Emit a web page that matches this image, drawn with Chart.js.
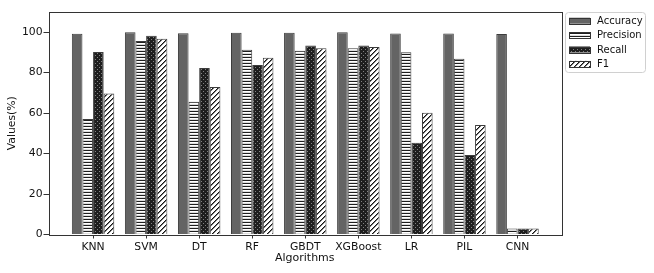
<!DOCTYPE html>
<html>
<head>
<meta charset="utf-8">
<script src="https://cdn.jsdelivr.net/npm/chart.js@4"></script>
<style>
  body { margin: 0; background: #fff; }
  canvas { display: block; }
</style>
</head>
<body>
<canvas id="myChart" width="654" height="273"></canvas>
<script>
const algorithms = ['KNN', 'SVM', 'DT', 'RF', 'GBDT', 'XGBoost', 'LR', 'PIL', 'CNN'];
const accuracy  = [99.3, 100, 99.5, 99.8, 99.8, 100, 99.4, 99.4, 99.1];
const precision = [57.1, 95.7, 65.6, 91.3, 90.8, 92.1, 90.1, 86.9, 3.0];
const recall    = [90.2, 98.3, 82.3, 83.8, 93.4, 93.4, 45.3, 39.3, 3.0];
const f1        = [69.7, 96.8, 72.9, 87.4, 92.1, 92.7, 60.2, 54.1, 3.0];
const yTicks = [0, 20, 40, 60, 80, 100];

// little tiles standing in for matplotlib hatches
function makeTile(w, h, pick) {
    const c = document.createElement('canvas');
    c.width = w; c.height = h;
    const cx = c.getContext('2d');
    const img = cx.createImageData(w, h);
    for (let y = 0; y < h; y++) {
        for (let x = 0; x < w; x++) {
            const g = pick(x, y);
            const i = (y * w + x) * 4;
            img.data[i] = img.data[i + 1] = img.data[i + 2] = g;
            img.data[i + 3] = 255;
        }
    }
    cx.putImageData(img, 0, 0);
    return cx.createPattern(c, 'repeat');
}

const ctx = document.getElementById('myChart').getContext('2d');
Chart.defaults.font.family = 'DejaVu Sans';
Chart.defaults.font.size = 10.8;
Chart.defaults.color = '#111';

const solidGray = 'rgb(100,100,100)';
const hLines = makeTile(1, 3, (x, y) => [30, 255, 220][y]);
const dots = makeTile(4, 4, (x, y) => ((x === 1 && y === 1) || (x === 3 && y === 3)) ? 130 : 30);
const diag = makeTile(5, 5, (x, y) => {
    const d = (x + y) % 5;
    return d === 0 ? 20 : (d === 1 ? 120 : 255);
});

const series = [
    { label: 'Accuracy', values: accuracy, fill: solidGray },
    { label: 'Precision', values: precision, fill: hLines },
    { label: 'Recall', values: recall, fill: dots },
    { label: 'F1', values: f1, fill: diag }
];

const frameAndLegend = {
    id: 'frameAndLegend',
    afterDatasetsDraw(chart) {
        const a = chart.chartArea;
        const c = chart.ctx;
        c.save();
        c.strokeStyle = '#333';
        c.lineWidth = 1;
        c.strokeRect(Math.round(a.left) + 0.5, Math.round(a.top) + 0.5,
            Math.round(a.right - a.left), Math.round(a.bottom - a.top));

        // legend box
        const lx = 565.5, ly = 12.5, lw = 80, lh = 60;
        c.fillStyle = 'rgba(255,255,255,0.9)';
        c.strokeStyle = '#d0d0d0';
        c.beginPath();
        c.roundRect(lx, ly, lw, lh, 3);
        c.fill();
        c.stroke();
        c.font = '10px "DejaVu Sans"';
        c.textBaseline = 'middle';
        series.forEach((s, i) => {
            const cy = 20.7 + i * 14.4;
            c.fillStyle = s.fill;
            c.fillRect(569, cy - 3, 21, 6);
            c.strokeStyle = '#333';
            c.strokeRect(569.5, Math.round(cy - 3) + 0.5, 21, 6);
            c.fillStyle = '#111';
            c.fillText(s.label, 597, cy + 0.5);
        });
        c.restore();
    }
};

const myChart = new Chart(ctx, {
    type: 'bar',
    data: {
        datasets: series.map(s => ({
            label: s.label,
            data: s.values.map((v, i) => ({ x: i, y: v })),
            backgroundColor: s.fill,
            borderColor: '#3c3c3c',
            borderWidth: 1,
            borderSkipped: 'bottom',
            categoryPercentage: 0.8,
            barPercentage: 1.0
        }))
    },
    options: {
        responsive: false,
        animation: false,
        devicePixelRatio: 1,
        layout: { padding: { top: 12, right: 93, bottom: 0, left: 0 } },
        plugins: {
            legend: { display: false },
            tooltip: { enabled: false }
        },
        scales: {
            x: {
                type: 'linear',
                offset: false,
                min: -0.84,
                max: 8.82,
                afterBuildTicks: scale => { scale.ticks = algorithms.map((a, i) => ({ value: i })); },
                afterFit: scale => { scale.height = 38.5; },
                grid: { display: true, offset: false, drawOnChartArea: false, tickLength: 4, color: '#333' },
                border: { display: false },
                ticks: {
                    autoSkip: false,
                    maxRotation: 0,
                    padding: 2.5,
                    callback: v => algorithms[v]
                },
                title: { display: true, text: 'Algorithms', font: { size: 11 }, padding: { top: 0, bottom: 8 } }
            },
            y: {
                min: 0,
                max: 110,
                afterBuildTicks: scale => { scale.ticks = yTicks.map(v => ({ value: v })); },
                afterFit: scale => { scale.width = 48.5; },
                grid: { display: true, drawOnChartArea: false, tickLength: 5, color: '#333' },
                border: { display: false },
                ticks: { padding: 1 },
                title: { display: true, text: 'Values(%)', padding: 6 }
            }
        }
    },
    plugins: [frameAndLegend]
});
</script>
</body>
</html>
